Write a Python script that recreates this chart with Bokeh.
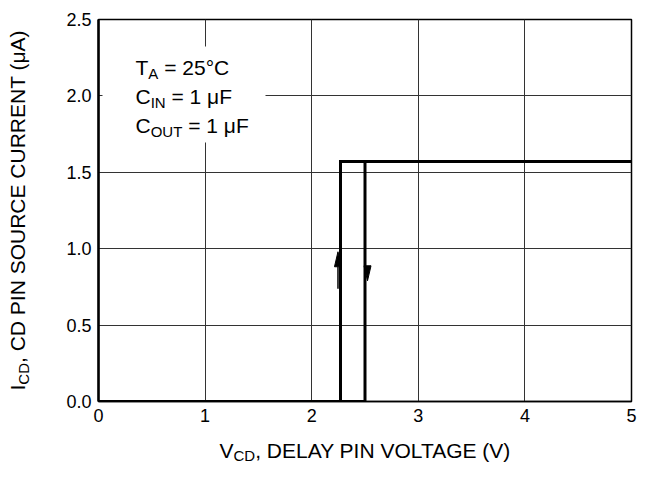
from bokeh.plotting import figure
from bokeh.layouts import row, column
from bokeh.models import Range1d, FixedTicker, PrintfTickFormatter, Label, BoxAnnotation
from bokeh.embed import file_html
from bokeh.resources import INLINE
import math

# ---- data ----
x_ticks = [0, 1, 2, 3, 4, 5]
y_ticks = [0.0, 0.5, 1.0, 1.5, 2.0, 2.5]

# hysteresis: rising sweep switches on at 2.27 V, falling sweep switches off at 2.5 V
v_rise = [0.0, 2.27, 2.27, 5.0]
i_rise = [0.0, 0.0, 1.57, 1.57]
v_fall = [5.0, 2.5, 2.5, 0.0]
i_fall = [1.57, 1.57, 0.0, 0.0]

# direction arrows on the two vertical transitions
arrow_v = [2.27, 2.5]
arrow_tip = [0.98, 0.79]
arrow_dir = [1, -1]

FONT = "Liberation Sans"
TOTAL_W, TOTAL_H = 637, 463
YSTRIP_W = 40
XSTRIP_H = 30
MW, MH = TOTAL_W - YSTRIP_W, TOTAL_H - XSTRIP_H
BL, BR, BT, BB = 98 - YSTRIP_W, 6, 19, 32

p = figure(width=MW, height=MH, x_range=Range1d(0, 5), y_range=Range1d(0, 2.5),
           output_backend="svg", toolbar_location=None,
           min_border_left=BL, min_border_right=BR, min_border_top=BT, min_border_bottom=BB)
p.background_fill_color = "white"
p.border_fill_color = "white"
p.outline_line_color = "black"
p.outline_line_width = 1.5

px_x = (MW - BL - BR) / 5.0
px_y = (MH - BT - BB) / 2.5

for ax in (p.xaxis[0], p.yaxis[0]):
    ax.major_tick_in = 0
    ax.major_tick_out = 0
    ax.minor_tick_in = 0
    ax.minor_tick_out = 0
    ax.major_label_text_font = FONT
    ax.major_label_text_font_size = "18px"
    ax.major_label_text_color = "black"
    ax.axis_line_color = "black"
    ax.major_label_standoff = 7
p.xaxis[0].ticker = FixedTicker(ticks=x_ticks)
p.yaxis[0].ticker = FixedTicker(ticks=y_ticks)
p.xaxis[0].formatter = PrintfTickFormatter(format="%d")
p.yaxis[0].formatter = PrintfTickFormatter(format="%.1f")
p.yaxis[0].axis_line_width = 2.5
p.xaxis[0].axis_line_width = 1.5

p.xgrid.ticker = FixedTicker(ticks=x_ticks)
p.ygrid.ticker = FixedTicker(ticks=y_ticks)
for g in (p.xgrid[0], p.ygrid[0]):
    g.grid_line_color = "#333333"
    g.grid_line_width = 1

p.line(v_rise, i_rise, line_color="black", line_width=3, line_join="miter")
p.line(v_fall, i_fall, line_color="black", line_width=3, line_join="miter")

# arrowheads (narrow triangles sized in pixels)
head_len = 15 / px_y
head_hw = 3.5 / px_x
for v, tip, d in zip(arrow_v, arrow_tip, arrow_dir):
    cx = v + (-2.5 if d > 0 else 2.5) / px_x
    base = tip - d * head_len
    p.patch([cx - head_hw, cx, cx + head_hw], [base, tip, base],
            fill_color="black", line_color="black", line_width=1)
    if d > 0:
        p.line([cx, cx], [base, base - 22 / px_y], line_color="black", line_width=1.5)

# legend box (pixel extents relative to the frame's bottom-left corner)
p.add_layout(BoxAnnotation(left=4 / px_x, right=167 / px_x,
                           top=355 / px_y, bottom=259 / px_y,
                           fill_color="white", fill_alpha=1.0, line_alpha=0.0))

# Arial-metric widths (per 1000 em)
WID = {'V': 667, 'C': 722, 'D': 722, ',': 278, ' ': 278, 'E': 667, 'L': 556, 'A': 667,
       'Y': 667, 'P': 667, 'I': 278, 'N': 722, 'O': 778, 'T': 611, 'G': 778, '(': 333,
       ')': 333, 'S': 667, 'U': 722, 'R': 722, 'μ': 576, '=': 584, '1': 556, '2': 556,
       '5': 556, '°': 400, 'F': 611}


def tw(s, size):
    return sum(WID.get(c, 600) for c in s) * size / 1000.0


MAIN, SUB, SHIFT = 21, 15, 4
BASE_FIX = 8  # rendered baseline sits this many px lower than requested


def rich(fig, pieces, x0, y0, rotated=False, shift=SHIFT):
    """pieces: list of (text, is_sub). Anchored at data (0,0) of fig, offsets in px."""
    pos = 0.0
    for text, sub in pieces:
        size = SUB if sub else MAIN
        lead = len(text) - len(text.lstrip(" "))
        pos += tw(" " * lead, size)
        t = text.lstrip(" ")
        fix = BASE_FIX * size / MAIN
        if rotated:
            lab = Label(x=0, y=0, x_offset=x0 + (shift if sub else 0) - fix, y_offset=y0 + pos,
                        text=t, angle=math.pi / 2)
        else:
            lab = Label(x=0, y=0, x_offset=x0 + pos, y_offset=y0 - (shift if sub else 0) + fix,
                        text=t)
        lab.text_font = FONT
        lab.text_font_size = f"{size}px"
        lab.text_color = "black"
        lab.text_align = "left"
        lab.text_baseline = "alphabetic"
        fig.add_layout(lab)
        pos += tw(t, size)


rich(p, [("T", False), ("A", True), (" = 25°C", False)], 37, 326)
rich(p, [("C", False), ("IN", True), (" = 1 μF", False)], 37, 297)
rich(p, [("C", False), ("OUT", True), (" = 1 μF", False)], 37, 268)


def strip(w, h):
    f = figure(width=w, height=h, x_range=Range1d(0, 1), y_range=Range1d(0, 1),
               output_backend="svg", toolbar_location=None, min_border=0,
               x_axis_location=None, y_axis_location=None)
    f.outline_line_color = None
    f.background_fill_color = "white"
    f.border_fill_color = "white"
    f.grid.visible = False
    return f


ys = strip(YSTRIP_W, TOTAL_H)
xs = strip(MW, XSTRIP_H)

# the x strip's frame is aligned with the main frame (left edge at canvas x = 98)
rich(xs, [("V", False), ("CD", True), (", DELAY PIN VOLTAGE (V)", False)], 121, 5, shift=3)
rich(ys, [("I", False), ("CD", True), (", CD PIN SOURCE CURRENT (μA)", False)], 25, 73,
     rotated=True)

layout = row(ys, column(p, xs, spacing=0), spacing=0)

open("out.html", "w").write(file_html(layout, INLINE))
